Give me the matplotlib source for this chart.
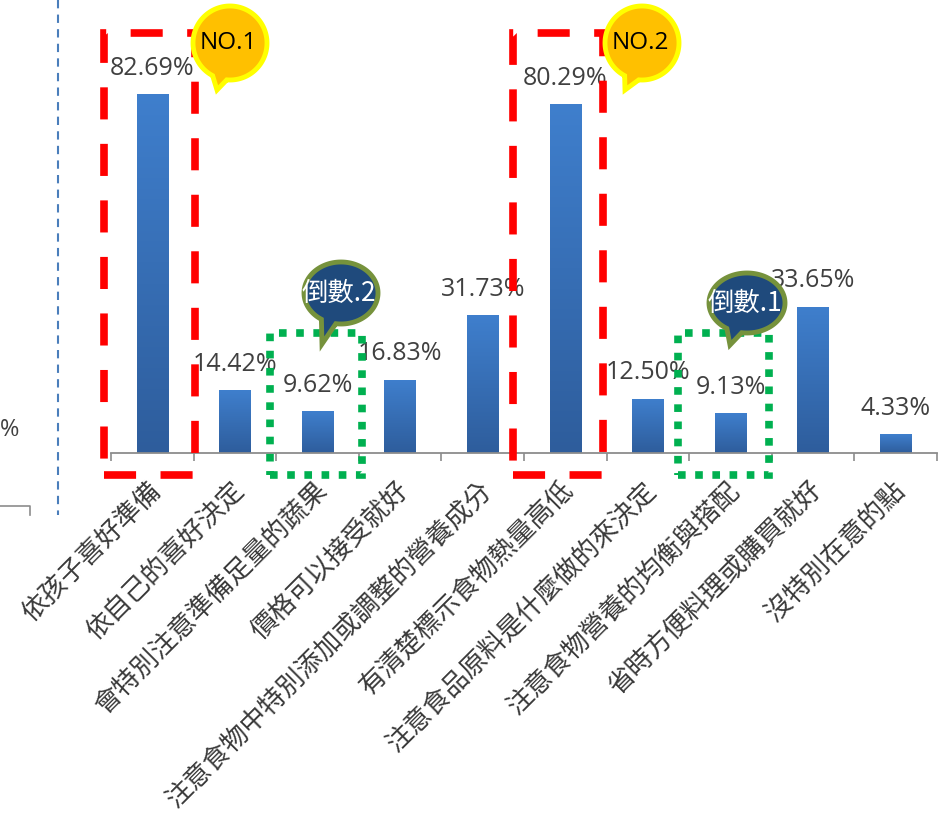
import numpy as np
import matplotlib
matplotlib.use("Agg")
import matplotlib.pyplot as plt
from matplotlib.patches import Rectangle, Polygon

plt.rcParams['font.family'] = ['Noto Sans CJK TC', 'DejaVu Sans']

# 資料
categories = ['依孩子喜好準備', '依自己的喜好決定', '會特別注意準備足量的蔬果',
              '價格可以接受就好', '注意食物中特別添加或調整的營養成分',
              '有清楚標示食物熱量高低', '注意食品原料是什麼做的來決定',
              '注意食物營養的均衡與搭配', '省時方便料理或購買就好', '沒特別在意的點']
values = [82.69, 14.42, 9.62, 16.83, 31.73, 80.29, 12.50, 9.13, 33.65, 4.33]
top_idx = [0, 5]       # NO.1, NO.2
bottom_idx = [2, 7]    # 倒數.2, 倒數.1

W, H = 941, 814
fig = plt.figure(figsize=(W / 100, H / 100), dpi=100)
fig.patch.set_facecolor('white')

ax = fig.add_axes([111 / W, (H - 453) / H, (937 - 111) / W, 453 / H])
ax.set_facecolor('none')
x = np.arange(len(values))
bars = ax.bar(x, values, width=0.38, color='#3a72bb', zorder=2)
ax.set_xlim(-0.5, len(values) - 0.5)
ax.set_ylim(0, 453 / 4.342)

# 漸層填色
grad = np.linspace(0, 1, 256).reshape(-1, 1)
cmap = matplotlib.colors.LinearSegmentedColormap.from_list('g', ['#2e5d9c', '#3f7fcd'])
for b in bars:
    im = ax.imshow(grad, cmap=cmap, origin='lower', aspect='auto', zorder=2,
                   extent=[b.get_x(), b.get_x() + b.get_width(), 0, b.get_height()])
    im.set_clip_path(b)

for xi, v in zip(x, values):
    ax.annotate(f'{v:.2f}%', (xi, v), xytext=(0, 14), textcoords='offset points',
                ha='center', va='baseline', fontsize=18, color='#404040',
                family=['Open Sans', 'DejaVu Sans'])

for s in ['top', 'right', 'left']:
    ax.spines[s].set_visible(False)
ax.spines['bottom'].set_color('#8c8c8c')
ax.spines['bottom'].set_linewidth(1.3)
ax.set_yticks([])
ax.set_xticks(np.arange(-0.5, len(values)), labels=[])
ax.tick_params(axis='x', which='major', length=6, width=1.2, color='#8c8c8c')
ax.set_xticks(x + 0.06, labels=categories, minor=True)
ax.tick_params(axis='x', which='minor', length=0, pad=24)
for lab in ax.get_xticklabels(minor=True):
    lab.set_rotation(45)
    lab.set_ha('right')
    lab.set_va('center')
    lab.set_rotation_mode('anchor')
    lab.set_fontsize(19)
    lab.set_color('#3a3a3a')

# 框線
for i, (l, r) in zip(top_idx, [(0.58, 0.52), (0.63, 0.46)]):
    ax.add_patch(Rectangle((i - l, -5.1), l + r, 101.8, fill=False, ec='#ff0000',
                           lw=5.5, ls=(0, (4.2, 3.2)), clip_on=False, zorder=3))
for i, (l, r) in zip(bottom_idx, [(0.575, 0.54), (0.64, 0.47)]):
    ax.add_patch(Rectangle((i - l, -5.1), l + r, 32.7, fill=False, ec='#00b050',
                           lw=5.5, ls=(0, (1, 1.25)), clip_on=False, zorder=3))

# 疊加層 (像素座標)
ov = fig.add_axes([0, 0, 1, 1])
ov.set_xlim(0, W)
ov.set_ylim(H, 0)
ov.axis('off')
ov.patch.set_visible(False)

# 左側殘留圖
ov.plot([58, 58], [0, 515], color='#4a7ebb', lw=1.5, ls=(0, (4, 3)))
ov.plot([0, 30, 30], [506, 506, 515], color='#8c8c8c', lw=1.2)
ov.text(0, 430, '%', fontsize=17, color='#404040', va='center',
        family=['Open Sans', 'DejaVu Sans'])


def callout(cx, cy, rx, ry, tip, a1, a2, fc, ec, text, tc, fam, fs):
    t = np.radians(np.linspace(a2, a1 + 360, 120))
    pts = list(zip(cx + rx * np.cos(t), cy + ry * np.sin(t)))
    pts.append(tip)
    ov.add_patch(Polygon(pts, closed=True, fc=fc, ec=ec, lw=3.5, zorder=5))
    ov.text(cx - 2, cy, text, ha='center', va='center', color=tc, fontsize=fs,
            family=fam, zorder=6)


callout(230, 43, 37, 37, (217, 90), 95, 118, '#ffc000', '#ffff00', 'NO.1', 'black',
        ['Open Sans', 'DejaVu Sans'], 17.5)
callout(642, 43, 37, 37, (625, 90), 95, 118, '#ffc000', '#ffff00', 'NO.2', 'black',
        ['Open Sans', 'DejaVu Sans'], 17.5)
callout(341, 293, 37, 31, (322, 344), 98, 122, '#1f4a7c', '#76923c', '倒數.2', 'white',
        ['Noto Sans CJK TC', 'DejaVu Sans'], 19)
callout(747, 303, 38, 30, (730, 345), 98, 122, '#1f4a7c', '#76923c', '倒數.1', 'white',
        ['Noto Sans CJK TC', 'DejaVu Sans'], 19)

fig.savefig('out.png', dpi=100)
